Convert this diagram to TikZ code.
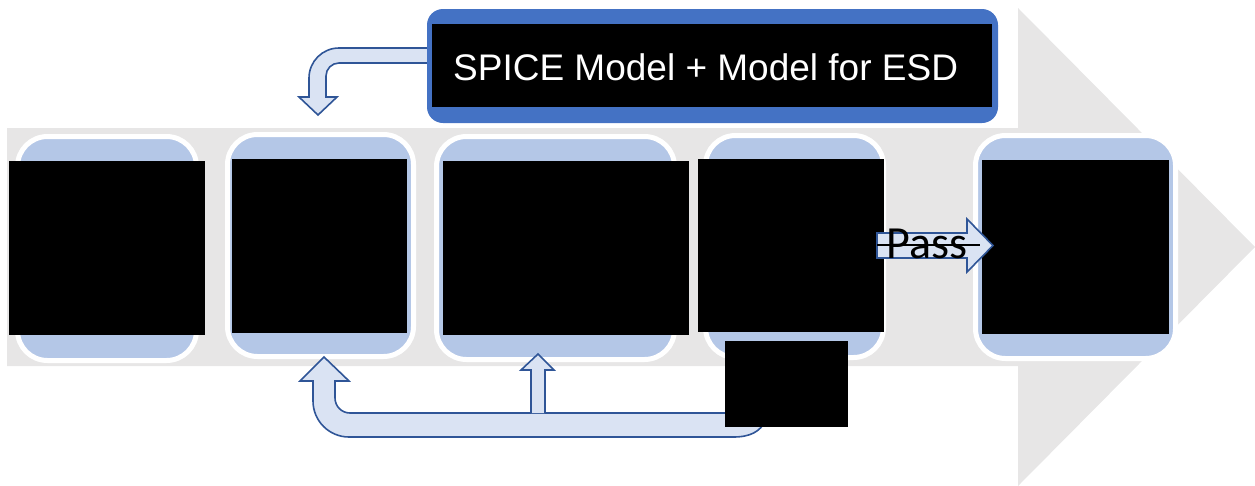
\documentclass[tikz,border=0pt]{standalone}
\usepackage{fontspec}
\setmainfont{Liberation Sans}
\newfontfamily\calib{Carlito}
\definecolor{bandgrey}{HTML}{E7E6E6}
\definecolor{stagefill}{HTML}{B4C7E7}
\definecolor{arrfill}{HTML}{DAE3F3}
\definecolor{arrline}{HTML}{2F5597}
\definecolor{spiceblue}{HTML}{4472C4}
\tikzset{
  stagebox/.style={draw=white, line width=5pt, fill=stagefill, rounded corners=30pt, inner sep=0pt, outer sep=0pt},
  maskbox/.style={fill=black, draw=none, inner sep=0pt, outer sep=0pt},
  blockarrow/.style={fill=arrfill, draw=arrline, line width=1.6pt, line join=miter},
}
\begin{document}
\begin{tikzpicture}[x=1pt, y=-1pt]
\useasboundingbox (0,0) rectangle (1255,485);
% big grey process arrow
\fill[bandgrey] (7,128) -- (1018,128) -- (1018,8) -- (1255,247) -- (1018,486) -- (1018,366) -- (7,366) -- cycle;
% stage boxes
\node[stagebox, minimum width=179pt, minimum height=224pt] (b1) at (107,248.5) {};
\node[stagebox, minimum width=186pt, minimum height=222pt] (b2) at (320.5,245.5) {};
\node[stagebox, minimum width=238pt, minimum height=223pt] (b3) at (555.5,248) {};
\node[stagebox, minimum width=178pt, minimum height=222pt] (b4) at (794.5,246.5) {};
\node[stagebox, minimum width=200pt, minimum height=223pt] (b5) at (1075.5,247) {};
% masked contents
\node[maskbox, minimum width=196pt, minimum height=174pt] (k1) at (107,248) {};
\node[maskbox, minimum width=175pt, minimum height=174pt] (k2) at (319.5,246) {};
\node[maskbox, minimum width=246pt, minimum height=174pt] (k3) at (566,248) {};
\node[maskbox, minimum width=186pt, minimum height=173pt] (k4) at (791,245.5) {};
\node[maskbox, minimum width=187pt, minimum height=174pt] (k5) at (1075.5,247) {};
% top-left bent arrow (from SPICE box down to stage 2)
\draw[blockarrow] (432,48) -- (339,48) arc[start angle=90, end angle=180, radius=30pt] -- (309,97) -- (299,97) -- (318,115) -- (337,97) -- (326,97) -- (326,76) arc[start angle=180, end angle=90, radius=13pt] -- (432,63);
% SPICE box
\node[fill=spiceblue, rounded corners=16pt, inner sep=0pt, outer sep=0pt, minimum width=571pt, minimum height=114pt] (spice) at (712.5,66) {};
\node[maskbox, minimum width=560pt, minimum height=83pt] (spiceinner) at (712,65.5) {};
\node[anchor=base west, inner sep=0pt, text=white, font=\fontsize{37}{44}\selectfont] (spicetxt) at (453,80) {SPICE Model + Model for ESD};
% bottom U-turn arrow back to stage 2
\draw[blockarrow] (324,357) -- (349,381) -- (335,381) -- (335,398) arc[start angle=180, end angle=270, radius=15pt] -- (766,413) -- (766,420) .. controls (760,432) and (750,437) .. (733,437) -- (349,437) arc[start angle=270, end angle=180, radius=36pt] -- (313,381) -- (300,381) -- cycle;
% small up arrow to stage 3
\filldraw[blockarrow] (531,413) -- (531,370) -- (521,370) -- (538,354) -- (554,370) -- (545,370) -- (545,413);
% masked label under stage 4
\node[maskbox, minimum width=123pt, minimum height=86pt] (k4b) at (786.5,384) {};
% Pass arrow
\draw[blockarrow] (877,233) -- (967,233) -- (967,219) -- (993,245.5) -- (967,272) -- (967,258) -- (877,258) -- cycle;
\coordinate (passl) at (877,245);
\coordinate (passr) at (980,245);
\draw[black, line width=2pt] (passl) -- (passr);
\node[anchor=base west, inner sep=0pt, text=black, font=\calib\fontsize{46}{55}\selectfont] (pass) at (886,258) {Pass};
\end{tikzpicture}
\end{document}
